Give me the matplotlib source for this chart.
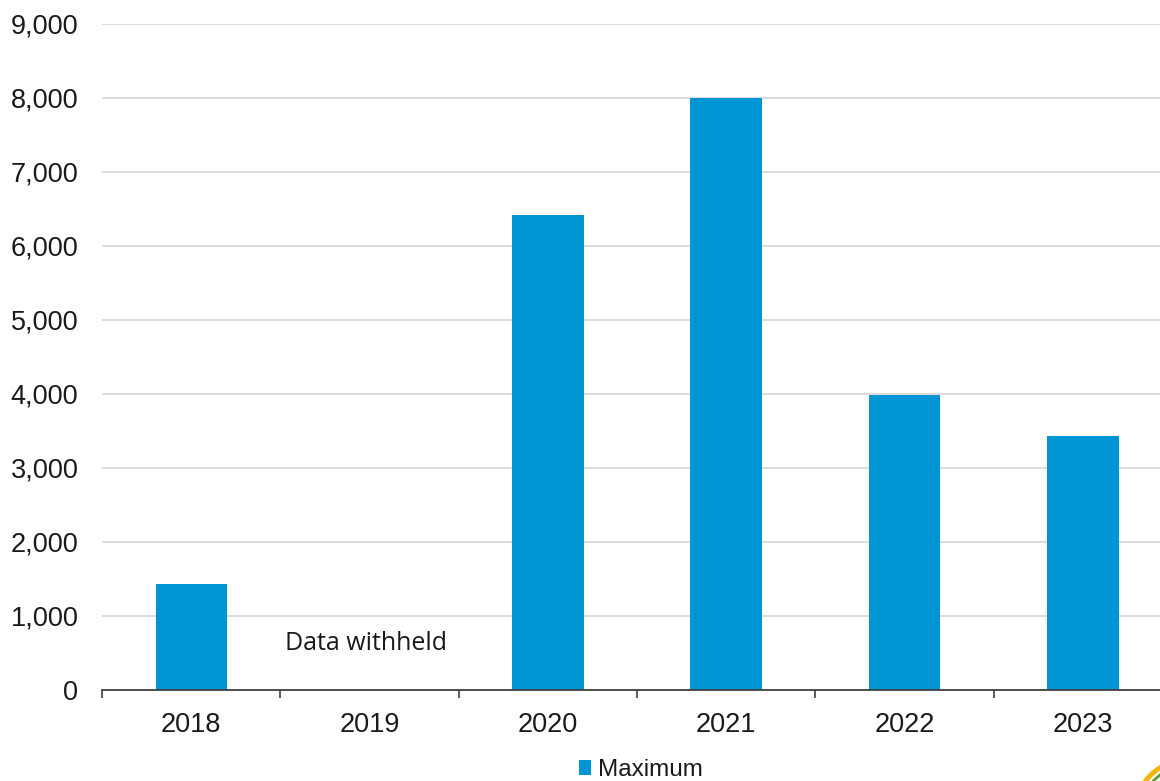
import matplotlib
matplotlib.use("Agg")
import matplotlib.pyplot as plt
from matplotlib.patches import Arc
from matplotlib.ticker import FuncFormatter, FixedLocator
import numpy as np

years = ["2018", "2019", "2020", "2021", "2022", "2023"]
maximum = [1430, np.nan, 6420, 8000, 3990, 3430]
withheld_note = "Data withheld"
series_name = "Maximum"

bar_color = "#0096D6"

plt.rcParams["font.family"] = ["Liberation Sans", "DejaVu Sans"]

W, H = 1160, 781
fig = plt.figure(figsize=(W / 100, H / 100), dpi=100)
ax = fig.add_axes([102 / W, 1 - 690 / H, (1172 - 102) / W, (690 - 23.5) / H])

x = np.arange(len(years))
vals = np.nan_to_num(np.array(maximum, dtype=float), nan=0.0)
ax.bar(x, vals, width=0.40, color=bar_color, zorder=3, label=series_name)

ax.set_xlim(-0.5, len(years) - 0.5)
ax.set_ylim(0, 9000)
ax.set_yticks(np.arange(0, 9001, 1000))
ax.yaxis.set_major_formatter(FuncFormatter(lambda v, p: f"{int(v):,}"))
ax.grid(axis="y", color="#d9d9d9", linewidth=1.3, zorder=0)
ax.set_axisbelow(True)

for s in ["top", "right", "left"]:
    ax.spines[s].set_visible(False)
ax.spines["bottom"].set_color("#404040")
ax.spines["bottom"].set_linewidth(1.3)
ax.spines["bottom"].set_zorder(4)

ax.set_xticks(x)
ax.set_xticklabels(years)
ax.xaxis.set_minor_locator(FixedLocator(np.arange(-0.5, len(years), 1.0)))
ax.tick_params(axis="x", which="major", length=0, labelsize=19.5, pad=16,
               labelcolor="#1a1a1a")
ax.tick_params(axis="x", which="minor", length=6, width=1.2, color="#404040",
               direction="out")
ax.tick_params(axis="y", length=0, labelsize=19.5, pad=17, labelcolor="#1a1a1a")

# note for the year with no published value
ax.text(0.98, 625, withheld_note, ha="center", va="center", fontsize=18,
        family=["Open Sans", "DejaVu Sans"], color="#1a1a1a", zorder=5)

fig.legend(loc="center", bbox_to_anchor=(641 / W, 1 - 770 / H),
           frameon=False, fontsize=17.5, handlelength=0.5, handleheight=0.55,
           handletextpad=0.3, borderpad=0, labelcolor="#1a1a1a")

# corner emblem fragment
fig.add_artist(Arc((1190 / W, 1 - 815 / H), 112 / W, 112 / H, theta1=95, theta2=180,
                   transform=fig.transFigure, color="#F2B600", linewidth=3.5))
fig.add_artist(Arc((1190 / W, 1 - 815 / H), 100 / W, 100 / H, theta1=100, theta2=175,
                   transform=fig.transFigure, color="#5a9e2f", linewidth=2))

fig.savefig("out.png", dpi=100)
